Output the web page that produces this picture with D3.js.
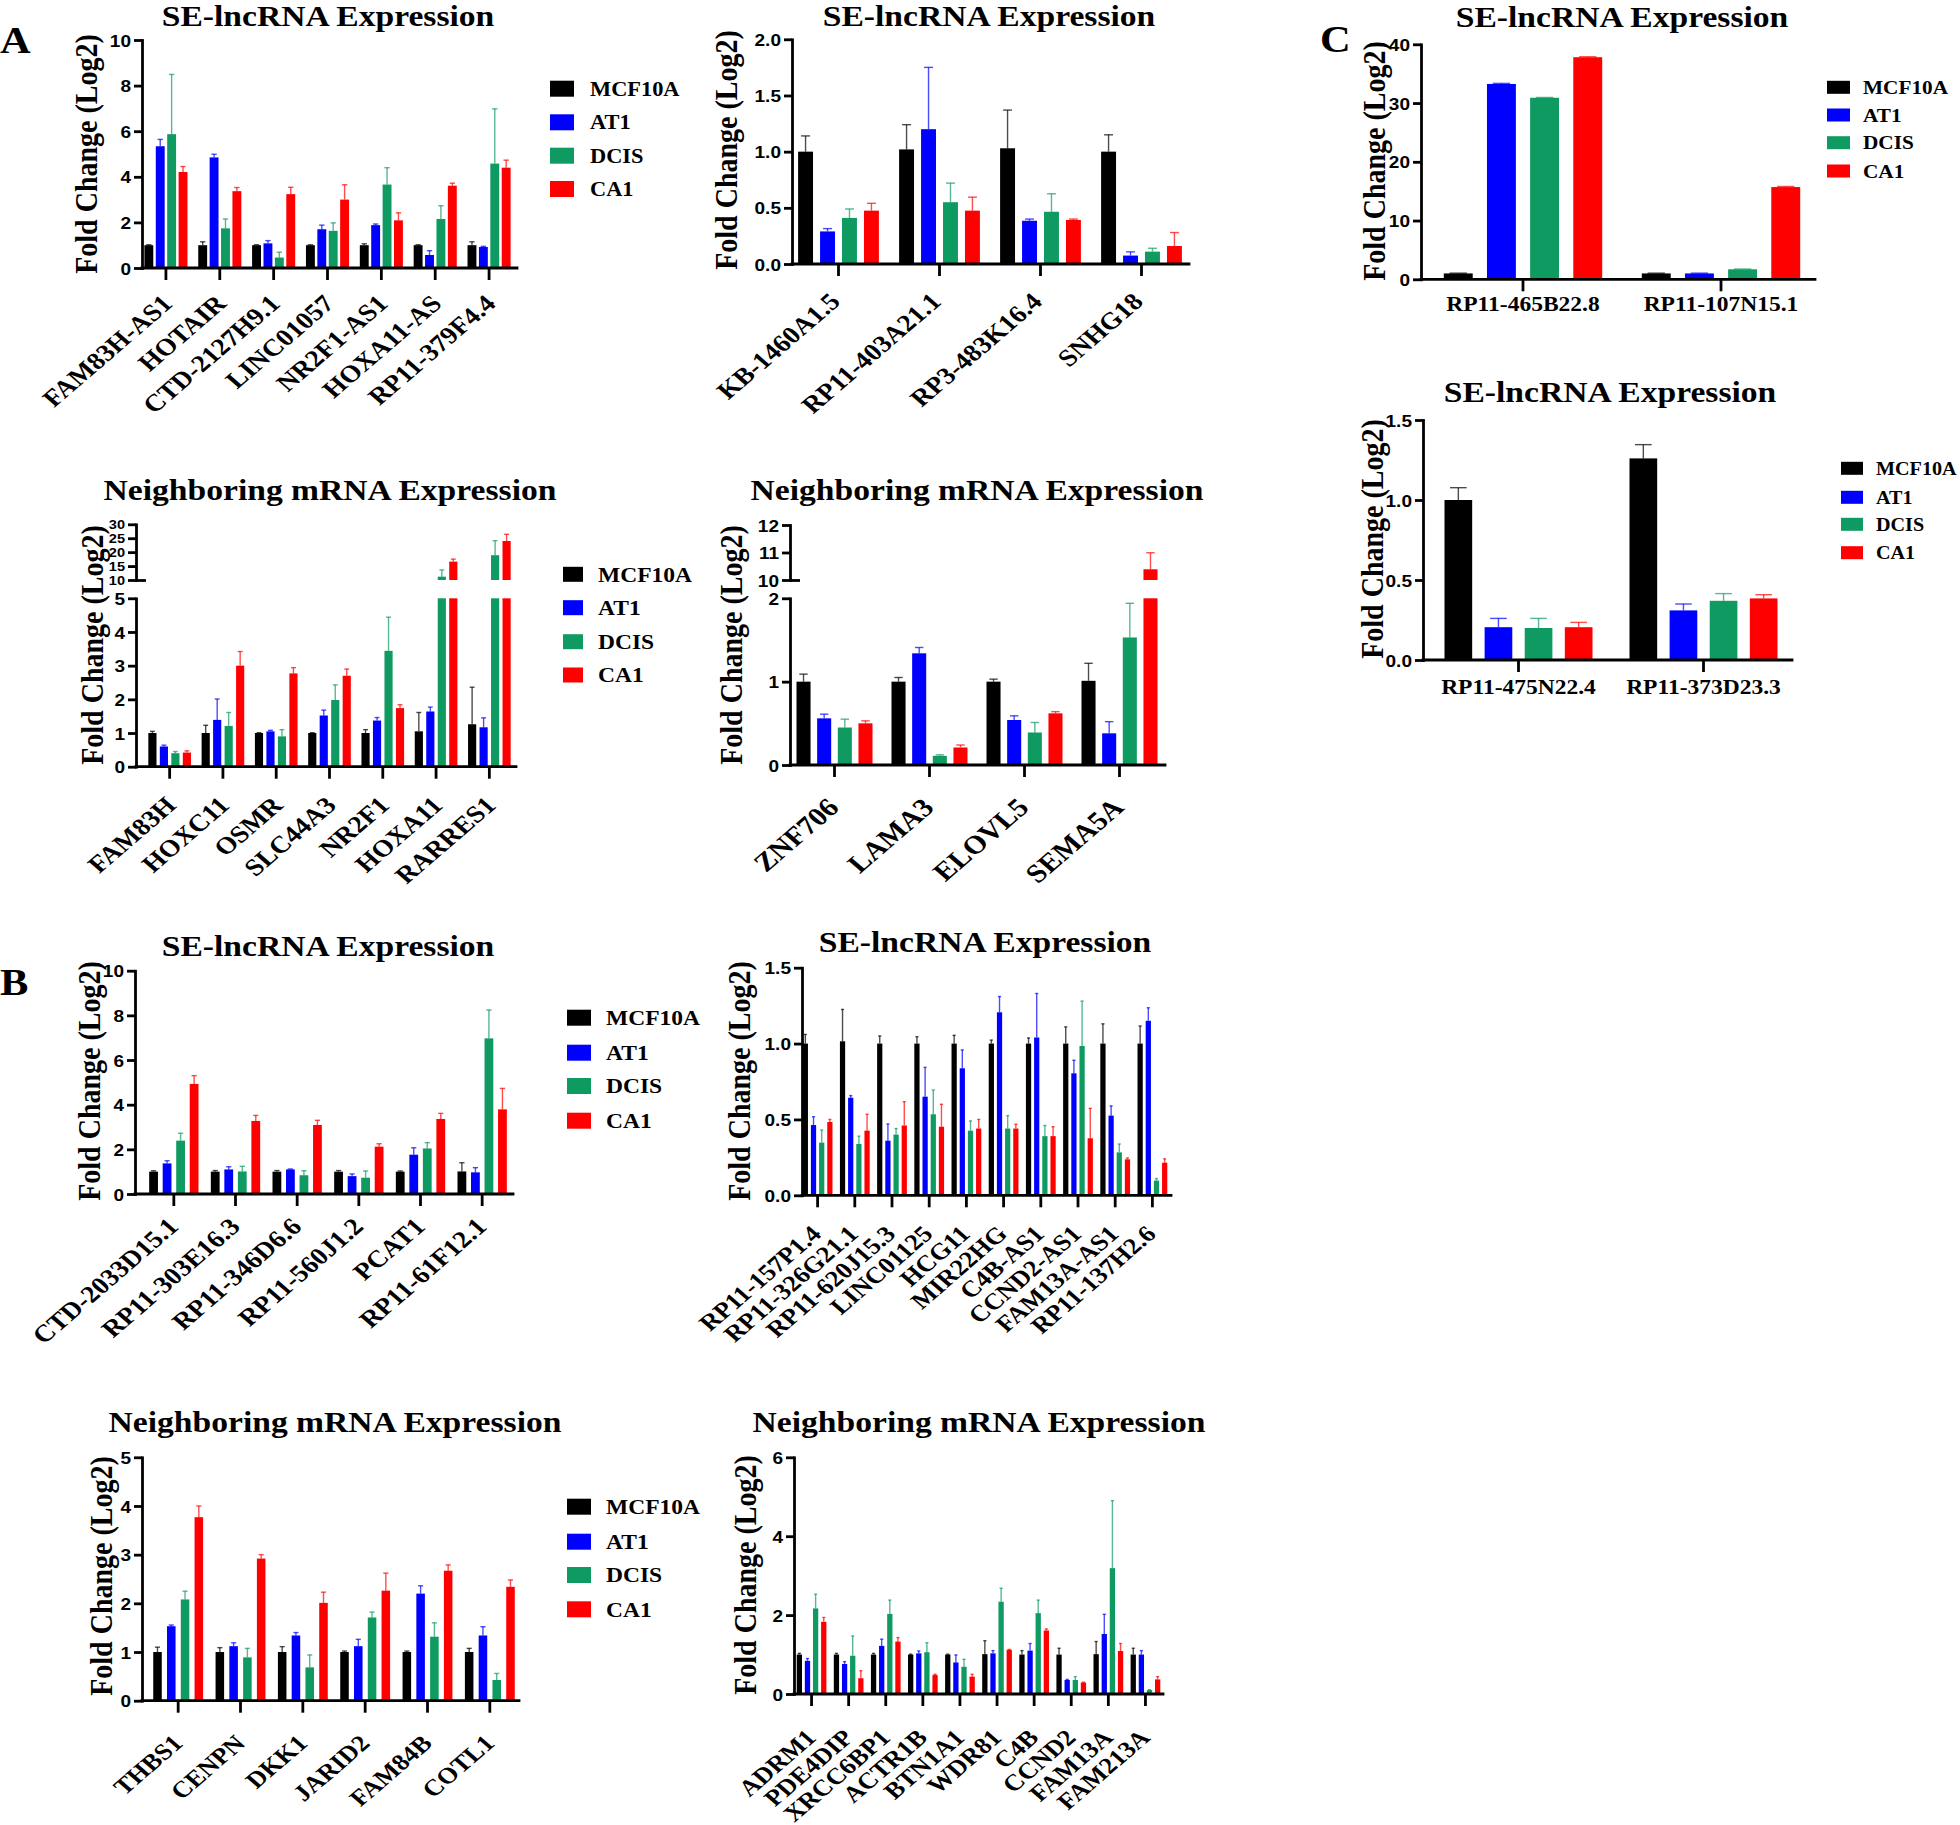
<!DOCTYPE html>
<html>
<head>
<meta charset="utf-8">
<script src="https://cdn.jsdelivr.net/npm/d3@7"></script>
<style>
body { margin: 0; background: #fff; }
</style>
</head>
<body>
<svg id="fig"></svg>
<script>
var series = ["MCF10A", "AT1", "DCIS", "CA1"];
var colors = ["#000000", "#0000ff", "#0f9a62", "#ff0000"];

// A, SE-lncRNA (left)
var a1Genes = ["FAM83H-AS1", "HOTAIR", "CTD-2127H9.1", "LINC01057", "NR2F1-AS1", "HOXA11-AS", "RP11-379F4.4"];
var a1Mean = [[1.0, 1.0, 1.0, 1.0, 1.0, 1.0, 1.0],
              [5.34, 4.85, 1.08, 1.70, 1.88, 0.57, 0.92],
              [5.87, 1.74, 0.46, 1.63, 3.66, 2.15, 4.58],
              [4.21, 3.37, 3.24, 3.0, 2.09, 3.61, 4.40]];
var a1Err = [[0.02, 0.15, 0.02, 0.02, 0.06, 0.02, 0.15],
             [0.30, 0.14, 0.12, 0.18, 0.05, 0.19, 0.03],
             [2.62, 0.41, 0.23, 0.35, 0.74, 0.58, 2.40],
             [0.24, 0.16, 0.30, 0.65, 0.33, 0.11, 0.33]];
var a1Ticks = [0, 2, 4, 6, 8, 10];

// A, SE-lncRNA (right)
var a2Genes = ["KB-1460A1.5", "RP11-403A21.1", "RP3-483K16.4", "SNHG18"];
var a2Mean = [[1.0, 1.02, 1.03, 1.0],
              [0.29, 1.20, 0.385, 0.075],
              [0.41, 0.55, 0.465, 0.11],
              [0.475, 0.475, 0.392, 0.16]];
var a2Err = [[0.14, 0.22, 0.34, 0.15],
             [0.025, 0.55, 0.015, 0.033],
             [0.08, 0.17, 0.16, 0.03],
             [0.065, 0.12, 0.008, 0.12]];
var a2Ticks = [0, 0.5, 1, 1.5, 2];

// C, top
var c1Genes = ["RP11-465B22.8", "RP11-107N15.1"];
var c1Mean = [[1.0, 1.0], [33.25, 1.0], [30.9, 1.7], [37.8, 15.7]];
var c1Err = [[0.05, 0.05], [0.1, 0.05], [0.05, 0.05], [0.08, 0.1]];
var c1Ticks = [0, 10, 20, 30, 40];

// C, bottom
var c2Genes = ["RP11-475N22.4", "RP11-373D23.3"];
var c2Mean = [[1.0, 1.26], [0.205, 0.31], [0.20, 0.37], [0.205, 0.385]];
var c2Err = [[0.077, 0.086], [0.055, 0.04], [0.06, 0.045], [0.03, 0.023]];
var c2Ticks = [0, 0.5, 1, 1.5];

// A, neighboring mRNA (left), broken axis
var a3Genes = ["FAM83H", "HOXC11", "OSMR", "SLC44A3", "NR2F1", "HOXA11", "RARRES1"];
var a3Mean = [[1.0, 1.0, 1.0, 1.0, 1.0, 1.05, 1.26],
              [0.6, 1.39, 1.05, 1.52, 1.37, 1.64, 1.17],
              [0.40, 1.21, 0.9, 1.98, 3.44, 11.2, 18.9],
              [0.42, 3.0, 2.77, 2.70, 1.74, 16.6, 24.0]];
var a3Err = [[0.05, 0.23, 0.01, 0.01, 0.1, 0.56, 1.1],
             [0.04, 0.62, 0.03, 0.16, 0.09, 0.13, 0.28],
             [0.05, 0.4, 0.2, 0.45, 1.0, 2.4, 5.2],
             [0.05, 0.42, 0.17, 0.2, 0.1, 0.9, 2.4]];
var a3TicksLow = [0, 1, 2, 3, 4, 5];
var a3TicksHigh = [10, 15, 20, 25, 30];

// A, neighboring mRNA (right), broken axis
var a4Genes = ["ZNF706", "LAMA3", "ELOVL5", "SEMA5A"];
var a4Mean = [[1.0, 1.0, 1.0, 1.01],
              [0.56, 1.34, 0.54, 0.38],
              [0.45, 0.11, 0.39, 1.53],
              [0.50, 0.21, 0.62, 10.39]];
var a4Err = [[0.09, 0.05, 0.03, 0.21],
             [0.05, 0.07, 0.05, 0.14],
             [0.10, 0.012, 0.12, 0.41],
             [0.03, 0.03, 0.02, 0.6]];
var a4TicksLow = [0, 1, 2];
var a4TicksHigh = [10, 11, 12];

// B, SE-lncRNA (left)
var b1Genes = ["CTD-2033D15.1", "RP11-303E16.3", "RP11-346D6.6", "RP11-560J1.2", "PCAT1", "RP11-61F12.1"];
var b1Mean = [[1.0, 1.0, 1.0, 1.0, 1.0, 1.01],
              [1.37, 1.10, 1.10, 0.80, 1.76, 0.97],
              [2.39, 1.01, 0.84, 0.73, 2.04, 6.97],
              [4.93, 3.27, 3.09, 2.12, 3.36, 3.79]];
var b1Err = [[0.04, 0.05, 0.05, 0.05, 0.03, 0.39],
             [0.12, 0.12, 0.02, 0.1, 0.31, 0.21],
             [0.33, 0.23, 0.2, 0.3, 0.26, 1.27],
             [0.37, 0.25, 0.21, 0.13, 0.25, 0.94]];
var b1Ticks = [0, 2, 4, 6, 8, 10];

// B, SE-lncRNA (right)
var b2Genes = ["RP11-157P1.4", "RP11-326G21.1", "RP11-620J15.3", "LINC01125", "HCG11", "MIR22HG", "C4B-AS1", "CCND2-AS1", "FAM13A-AS1", "RP11-137H2.6"];
var b2Mean = [[1.0, 1.015, 1.0, 1.0, 1.0, 1.0, 1.0, 1.0, 1.0, 1.0],
              [0.463, 0.643, 0.36, 0.65, 0.837, 1.206, 1.04, 0.804, 0.525, 1.15],
              [0.347, 0.338, 0.40, 0.534, 0.426, 0.44, 0.39, 0.984, 0.283, 0.097],
              [0.483, 0.426, 0.46, 0.452, 0.44, 0.44, 0.39, 0.376, 0.237, 0.215]];
var b2Err = [[0.06, 0.21, 0.05, 0.045, 0.054, 0.023, 0.037, 0.11, 0.13, 0.116],
             [0.055, 0.014, 0.11, 0.193, 0.121, 0.104, 0.29, 0.086, 0.064, 0.086],
             [0.083, 0.052, 0.04, 0.16, 0.064, 0.085, 0.07, 0.296, 0.055, 0.013],
             [0.017, 0.108, 0.157, 0.148, 0.06, 0.028, 0.062, 0.197, 0.009, 0.025]];
var b2Ticks = [0, 0.5, 1, 1.5];

// B, neighboring mRNA (left)
var b3Genes = ["THBS1", "CENPN", "DKK1", "JARID2", "FAM84B", "COTL1"];
var b3Mean = [[1.0, 1.0, 1.0, 1.0, 1.0, 1.0],
              [1.53, 1.12, 1.34, 1.12, 2.2, 1.34],
              [2.08, 0.89, 0.685, 1.71, 1.315, 0.425],
              [3.77, 2.92, 2.01, 2.26, 2.67, 2.34]];
var b3Err = [[0.1, 0.09, 0.11, 0.02, 0.02, 0.075],
             [0.025, 0.07, 0.06, 0.14, 0.16, 0.18],
             [0.17, 0.185, 0.255, 0.11, 0.285, 0.135],
             [0.23, 0.08, 0.22, 0.36, 0.12, 0.14]];
var b3Ticks = [0, 1, 2, 3, 4, 5];

// B, neighboring mRNA (right)
var b4Genes = ["ADRM1", "PDE4DIP", "XRCC6BP1", "ACTR1B", "BTN1A1", "WDR81", "C4B", "CCND2", "FAM13A", "FAM213A"];
var b4Mean = [[1.0, 1.0, 1.0, 1.0, 1.0, 1.01, 1.0, 1.0, 1.01, 1.0],
              [0.84, 0.76, 1.22, 1.03, 0.80, 1.03, 1.10, 0.355, 1.52, 1.0],
              [2.17, 0.97, 2.03, 1.06, 0.69, 2.34, 2.05, 0.355, 3.19, 0.10],
              [1.83, 0.40, 1.33, 0.48, 0.44, 1.12, 1.61, 0.29, 1.09, 0.37]];
var b4Err = [[0.03, 0.03, 0.03, 0.01, 0.01, 0.34, 0.1, 0.16, 0.32, 0.16],
             [0.06, 0.06, 0.17, 0.06, 0.19, 0.07, 0.18, 0.015, 0.5, 0.1],
             [0.36, 0.5, 0.35, 0.24, 0.19, 0.34, 0.33, 0.085, 1.71, 0.01],
             [0.11, 0.19, 0.1, 0.02, 0.06, 0.01, 0.04, 0.01, 0.19, 0.07]];
var b4Ticks = [0, 2, 4, 6];

var SE = "SE-lncRNA Expression", NB = "Neighboring mRNA Expression";

var SX = 1.12;    // the figure is a bit wider than tall, so text is stretched too
var CAT_SX = 1.16; // rotated gene names look stretched a little more
var serif = "'Liberation Serif','Times New Roman',serif";
var sans = "'Liberation Sans',Arial,sans-serif";

var svg = d3.select("#fig").attr("width", 1960).attr("height", 1825);

function label(parent, str, x, y, size, anchor, rot, family) {
	return parent.append("text")
		.attr("transform", "translate(" + x + "," + y + ") scale(" + SX + ",1)" + (rot ? " rotate(" + rot + ")" : ""))
		.attr("text-anchor", anchor)
		.attr("font-family", family || serif)
		.attr("font-weight", "bold")
		.attr("font-size", size)
		.attr("fill", "#000")
		.text(str);
}

var panels = [
	{genes: a1Genes, mean: a1Mean, err: a1Err, title: SE, tx: 328, ty: 26,
	 ax: 142, axEnd: 517, xr: [139, 516], pin: 0.22, fmt: "d",
	 segs: [{dom: [0, 10], rng: [268, 40], ticks: a1Ticks}],
	 ylx: 97, yly: 154, cat: {size: 24, dx: 8, dy: 37, rot: -45},
	 legend: {x: 550, w: 24, h: 16, tx: 590, rows: [88.7, 122.3, 155.7, 189], size: 20}},
	{genes: a2Genes, mean: a2Mean, err: a2Err, title: SE, tx: 989, ty: 26,
	 ax: 792, axEnd: 1189, xr: [788, 1192], pin: 0.32, fmt: ".1f",
	 segs: [{dom: [0, 2], rng: [264, 39.3], ticks: a2Ticks}],
	 ylx: 737, yly: 150, cat: {size: 24, dx: 3, dy: 39, rot: -45}},
	{genes: c1Genes, mean: c1Mean, err: c1Err, title: SE, tx: 1622, ty: 27,
	 ax: 1421, axEnd: 1815, xr: [1424, 1820], pin: 0.33, fmt: "d",
	 segs: [{dom: [0, 40], rng: [279.3, 44.3], ticks: c1Ticks}],
	 ylx: 1385, yly: 161, cat: {size: 21, dx: 0, dy: 32, rot: 0},
	 legend: {x: 1827, w: 23, h: 13, tx: 1863, rows: [87.3, 115, 142.7, 171], size: 19}},
	{genes: c2Genes, mean: c2Mean, err: c2Err, title: SE, tx: 1610, ty: 402,
	 ax: 1423, axEnd: 1792, xr: [1426, 1796], pin: 0.31, fmt: ".1f",
	 segs: [{dom: [0, 1.5], rng: [660, 420], ticks: c2Ticks}],
	 ylx: 1383, yly: 539, cat: {size: 21, dx: 0, dy: 34, rot: 0},
	 legend: {x: 1841, w: 22, h: 13, tx: 1876, rows: [468.3, 497.3, 524.3, 552.7], size: 18}},
	{genes: a3Genes, mean: a3Mean, err: a3Err, title: NB, tx: 330, ty: 500,
	 ax: 136, axEnd: 516, xr: [143, 516], pin: 0.29, fmt: "d",
	 segs: [{dom: [0, 5], rng: [766.7, 598.3], ticks: a3TicksLow},
	        {dom: [10, 30], rng: [580, 524.3], ticks: a3TicksHigh, size: 13}],
	 ylx: 102.5, yly: 645, cat: {size: 24, dx: 8, dy: 40, rot: -45},
	 legend: {x: 563, w: 20, h: 15, tx: 598, rows: [574.3, 607.7, 641.7, 675], size: 21}},
	{genes: a4Genes, mean: a4Mean, err: a4Err, title: NB, tx: 977, ty: 500,
	 ax: 790, axEnd: 1165, xr: [787, 1167], pin: 0.32, fmt: "d",
	 segs: [{dom: [0, 2], rng: [765, 598.3], ticks: a4TicksLow},
	        {dom: [10, 12], rng: [580, 525], ticks: a4TicksHigh}],
	 ylx: 742, yly: 645, cat: {size: 26, dx: 6, dy: 44, rot: -45}},
	{genes: b1Genes, mean: b1Mean, err: b1Err, title: SE, tx: 328, ty: 956,
	 ax: 135, axEnd: 513, xr: [143, 513], pin: 0.35, fmt: "d",
	 segs: [{dom: [0, 10], rng: [1194, 970.7], ticks: b1Ticks}],
	 ylx: 100, yly: 1081, cat: {size: 24, dx: 6, dy: 34, rot: -45},
	 legend: {x: 567, w: 24, h: 16, tx: 606, rows: [1017.7, 1052.7, 1086, 1120.7], size: 21}},
	{genes: b2Genes, mean: b2Mean, err: b2Err, title: SE, tx: 985, ty: 952,
	 ax: 802, axEnd: 1171, xr: [799, 1171], pin: 0.36, fmt: ".1f",
	 segs: [{dom: [0, 1.5], rng: [1195.3, 967.7], ticks: b2Ticks}],
	 ylx: 750, yly: 1081, cat: {size: 23, dx: 5, dy: 40, rot: -45}},
	{genes: b3Genes, mean: b3Mean, err: b3Err, title: NB, tx: 335, ty: 1432,
	 ax: 142, axEnd: 519, xr: [147, 521], pin: 0.38, fmt: "d",
	 segs: [{dom: [0, 5], rng: [1700.7, 1457.3], ticks: b3Ticks}],
	 ylx: 112, yly: 1576, cat: {size: 23, dx: 6, dy: 44, rot: -45},
	 legend: {x: 567, w: 24, h: 16, tx: 606, rows: [1506.7, 1541.7, 1575, 1609.3], size: 21}},
	{genes: b4Genes, mean: b4Mean, err: b4Err, title: NB, tx: 979, ty: 1432,
	 ax: 794, axEnd: 1163, xr: [793, 1164], pin: 0.35, fmt: "d",
	 segs: [{dom: [0, 6], rng: [1694, 1457.3], ticks: b4Ticks}],
	 ylx: 756, yly: 1575, cat: {size: 23, dx: 6, dy: 45, rot: -45}}
];

panels.forEach(function(p) {
	var g = svg.append("g");
	var x0 = d3.scaleBand().domain(p.genes).range(p.xr).paddingInner(0.2).paddingOuter(0.1);
	var x1 = d3.scaleBand().domain(series).range([0, x0.bandwidth()]).paddingInner(p.pin).paddingOuter(0);
	var segs = p.segs.map(function(s) {
		return {dom: s.dom, ticks: s.ticks, size: s.size || 17, y: d3.scaleLinear().domain(s.dom).range(s.rng)};
	});
	var y0 = segs[0].y(0);

	var cells = [];
	p.genes.forEach(function(gene, i) {
		series.forEach(function(s, j) {
			cells.push({gene: gene, s: s, j: j, v: p.mean[j][i], e: p.err[j][i]});
		});
	});
	function cx(d) { return x0(d.gene) + x1(d.s) + x1.bandwidth() / 2; }
	function segOf(v) {
		return segs.find(function(sg) { return v <= sg.dom[1]; }) || segs[segs.length - 1];
	}

	// bars, one piece for each axis segment the value reaches
	segs.forEach(function(sg) {
		g.append("g").selectAll("rect")
			.data(cells.filter(function(d) { return d.v > sg.dom[0]; }))
			.join("rect")
			.attr("x", function(d) { return x0(d.gene) + x1(d.s); })
			.attr("y", function(d) { return sg.y(Math.min(d.v, sg.dom[1])); })
			.attr("width", x1.bandwidth())
			.attr("height", function(d) { return sg.y(sg.dom[0]) - sg.y(Math.min(d.v, sg.dom[1])); })
			.attr("fill", function(d) { return colors[d.j]; });
	});

	// upper error bars
	var cw = x1.bandwidth() * 0.6;
	var eb = g.append("g").selectAll("g")
		.data(cells.filter(function(d) { return d.e > 0; }))
		.join("g")
		.attr("stroke", function(d) { return colors[d.j]; })
		.attr("stroke-width", 1.4)
		.attr("stroke-opacity", 0.7);
	eb.append("line")
		.attr("x1", cx).attr("x2", cx)
		.attr("y1", function(d) { return segOf(d.v).y(d.v); })
		.attr("y2", function(d) { return segOf(d.v).y(d.v + d.e); });
	eb.append("line")
		.attr("x1", function(d) { return cx(d) - cw / 2; })
		.attr("x2", function(d) { return cx(d) + cw / 2; })
		.attr("y1", function(d) { return segOf(d.v).y(d.v + d.e); })
		.attr("y2", function(d) { return segOf(d.v).y(d.v + d.e); });

	// y axis (two pieces when the axis is broken)
	segs.forEach(function(sg, k) {
		var ya = g.append("g").attr("transform", "translate(" + p.ax + ",0)")
			.call(d3.axisLeft(sg.y).tickValues(sg.ticks).tickSize(8).tickSizeOuter(0).tickFormat(d3.format(p.fmt)));
		ya.selectAll("path,line").attr("stroke", "#000").attr("stroke-width", 2.8);
		ya.select(".domain").attr("stroke-linecap", "square");
		// the bottom tick of an upper piece crosses the axis, as a break mark
		if (k > 0) ya.selectAll(".tick line").filter(function(d) { return d === sg.dom[0]; }).attr("x2", 10).attr("x1", -8);
		ya.selectAll("text")
			.attr("x", 0).attr("dy", "0.36em")
			.attr("transform", "translate(-11,0) scale(" + SX + ",1)")
			.attr("font-family", sans).attr("font-weight", "bold")
			.attr("font-size", sg.size).attr("fill", "#000");
	});

	// x axis
	var xa = g.append("g").attr("transform", "translate(0," + y0 + ")")
		.call(d3.axisBottom(x0).tickSize(12).tickSizeOuter(0));
	xa.selectAll("path,line").attr("stroke", "#000").attr("stroke-width", 2.8);
	xa.select(".domain").attr("d", "M" + p.ax + ",0H" + p.axEnd).attr("stroke-linecap", "square");
	xa.selectAll("text")
		.attr("x", 0).attr("y", 0).attr("dy", 0)
		.attr("transform", "translate(" + p.cat.dx + "," + p.cat.dy + ") scale(" + (p.cat.rot ? CAT_SX : SX) + ",1)" + (p.cat.rot ? " rotate(" + p.cat.rot + ")" : ""))
		.attr("text-anchor", p.cat.rot ? "end" : "middle")
		.attr("font-family", serif).attr("font-weight", "bold")
		.attr("font-size", p.cat.size).attr("fill", "#000");

	label(g, p.title, p.tx, p.ty, 30, "middle");
	label(g, "Fold Change (Log2)", p.ylx, p.yly, 28, "middle", -90);

	if (p.legend) {
		var L = p.legend;
		var lg = g.append("g").selectAll("g").data(series).join("g");
		lg.append("rect")
			.attr("x", L.x)
			.attr("y", function(d, i) { return L.rows[i] - L.h / 2; })
			.attr("width", L.w).attr("height", L.h)
			.attr("fill", function(d, i) { return colors[i]; });
		lg.each(function(d, i) {
			label(d3.select(this), d, L.tx, L.rows[i] + L.size * 0.35, L.size, "start");
		});
	}
});

label(svg, "A", 0, 53, 38, "start");
label(svg, "B", 0, 995, 38, "start");
label(svg, "C", 1320, 52, 38, "start");
</script>
</body>
</html>
